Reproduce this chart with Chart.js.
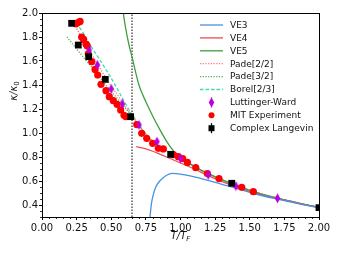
<!DOCTYPE html>
<html>
<head>
<meta charset="utf-8">
<script src="https://cdn.jsdelivr.net/npm/chart.js@4.4.1/dist/chart.umd.min.js"></script>
<style>
html, body { margin: 0; padding: 0; background: #fff; }
#wrap { width: 339px; height: 255px; }
</style>
</head>
<body>
<div id="wrap"><canvas id="kappaChart" width="339" height="255"></canvas></div>
<script>
// axis ticks
const xTicks = [0, 0.25, 0.5, 0.75, 1.0, 1.25, 1.5, 1.75, 2.0];
const yTicks = [0.4, 0.6, 0.8, 1.0, 1.2, 1.4, 1.6, 1.8, 2.0];
const tcLine = 0.65;

// virial expansions
const ve3X = [0.78, 0.785, 0.79, 0.80, 0.82, 0.85, 0.90, 0.94, 1.00, 1.10, 1.20, 1.30, 1.40, 1.50, 1.60, 1.70, 1.80, 1.90, 2.00];
const ve3Y = [0.30, 0.36, 0.41, 0.47, 0.545, 0.60, 0.648, 0.664, 0.658, 0.635, 0.605, 0.572, 0.54, 0.505, 0.475, 0.45, 0.425, 0.40, 0.378];
const ve4X = [0.68, 0.75, 0.80, 0.85, 0.90, 0.95, 1.00, 1.10, 1.20, 1.30, 1.40, 1.50, 1.60, 1.70, 1.80, 1.90, 2.00];
const ve4Y = [0.886, 0.868, 0.848, 0.824, 0.80, 0.775, 0.75, 0.70, 0.645, 0.595, 0.553, 0.513, 0.48, 0.453, 0.428, 0.403, 0.379];
const ve5X = [0.587, 0.60, 0.625, 0.655, 0.70, 0.75, 0.80, 0.85, 0.90, 0.95, 1.00, 1.10, 1.20, 1.30, 1.40, 1.50, 1.60, 1.70, 1.80, 1.90, 2.00];
const ve5Y = [2.0, 1.90, 1.75, 1.61, 1.40, 1.26, 1.14, 1.03, 0.93, 0.85, 0.80, 0.72, 0.662, 0.61, 0.565, 0.522, 0.487, 0.457, 0.43, 0.404, 0.38];

// resummations
const pade22X = [0.25, 0.30, 0.35, 0.40, 0.45, 0.50, 0.55, 0.60, 0.65, 0.70, 0.75, 0.80, 0.85, 0.90, 0.95, 1.00, 1.10, 1.20, 1.30, 1.40, 1.50, 1.60, 1.70, 1.80, 1.90, 2.00];
const pade22Y = [1.87, 1.77, 1.67, 1.575, 1.48, 1.39, 1.31, 1.225, 1.145, 1.065, 0.99, 0.93, 0.885, 0.852, 0.823, 0.795, 0.72, 0.662, 0.61, 0.565, 0.522, 0.487, 0.457, 0.43, 0.404, 0.38];
const pade32X = [0.18, 0.25, 0.30, 0.35, 0.40, 0.45, 0.50, 0.55, 0.60, 0.65, 0.70, 0.75, 0.80, 0.85, 0.90, 0.95, 1.00, 1.10, 1.20, 1.30, 1.40, 1.50, 1.60, 1.70, 1.80, 1.90, 2.00];
const pade32Y = [1.80, 1.70, 1.63, 1.56, 1.49, 1.415, 1.345, 1.28, 1.21, 1.14, 1.06, 0.99, 0.93, 0.885, 0.852, 0.823, 0.795, 0.72, 0.662, 0.61, 0.565, 0.522, 0.487, 0.457, 0.43, 0.404, 0.38];
const borelX = [0.27, 0.30, 0.35, 0.40, 0.45, 0.50, 0.55, 0.60, 0.65, 0.70, 0.75, 0.80, 0.85, 0.90, 0.95, 1.00, 1.10, 1.20, 1.30, 1.40, 1.50, 1.60, 1.70, 1.80, 1.90, 2.00];
const borelY = [1.88, 1.83, 1.73, 1.64, 1.55, 1.455, 1.355, 1.25, 1.155, 1.07, 0.99, 0.93, 0.885, 0.852, 0.823, 0.795, 0.72, 0.662, 0.61, 0.565, 0.522, 0.487, 0.457, 0.43, 0.404, 0.38];

// Luttinger-Ward
const lwX = [0.34, 0.40, 0.50, 0.58, 0.70, 0.83, 1.00, 1.20, 1.40, 1.70];
const lwY = [1.69, 1.567, 1.367, 1.242, 1.067, 0.928, 0.789, 0.652, 0.558, 0.456];
const lwErr = [0.025, 0.025, 0.025, 0.025, 0.025, 0.025, 0.02, 0.02, 0.02, 0.02];

// MIT experiment
const mitX = [0.245, 0.26, 0.275, 0.286, 0.30, 0.318, 0.327, 0.334, 0.359, 0.383, 0.402, 0.426, 0.462, 0.486, 0.515, 0.542, 0.568, 0.592, 0.606, 0.684, 0.72, 0.756, 0.799, 0.84, 0.876, 0.948, 0.984, 1.016, 1.05, 1.11, 1.194, 1.278, 1.442, 1.526];
const mitY = [1.91, 1.92, 1.93, 1.80, 1.78, 1.74, 1.725, 1.66, 1.594, 1.53, 1.483, 1.406, 1.353, 1.303, 1.269, 1.239, 1.192, 1.147, 1.136, 1.07, 0.997, 0.956, 0.914, 0.872, 0.867, 0.82, 0.803, 0.787, 0.755, 0.711, 0.662, 0.62, 0.547, 0.511];

// Complex Langevin
const clX = [0.214, 0.262, 0.337, 0.457, 0.64, 0.929, 1.37, 2.0];
const clY = [1.914, 1.733, 1.636, 1.447, 1.136, 0.822, 0.581, 0.378];
const clErr = [0.02, 0.02, 0.02, 0.02, 0.025, 0.015, 0.015, 0.015];

const toPts = (xs, ys) => xs.map((x, i) => ({ x: x, y: ys[i] }));

function thinDiamond(color) {
    const c = document.createElement('canvas');
    c.width = 7;
    c.height = 11;
    const g = c.getContext('2d');
    g.fillStyle = color;
    g.beginPath();
    g.moveTo(3.5, 0.5);
    g.lineTo(6.3, 5.5);
    g.lineTo(3.5, 10.5);
    g.lineTo(0.7, 5.5);
    g.closePath();
    g.fill();
    return c;
}

const lwColor = '#bb00dd';
const diamond = thinDiamond(lwColor);

function lineSet(label, xs, ys, color, dash) {
    return {
        type: 'line',
        label: label,
        data: toPts(xs, ys),
        borderColor: color,
        borderWidth: 1.3,
        borderDash: dash,
        pointRadius: 0,
        cubicInterpolationMode: 'monotone',
        fill: false,
        order: 5,
        inLegend: true
    };
}

const extras = {
    id: 'extras',
    afterDatasetsDraw(chart) {
        const ctx = chart.ctx;
        const xs = chart.scales.x, ys = chart.scales.y;
        ctx.save();
        chart.data.datasets.forEach(ds => {
            if (!ds.errs) return;
            ctx.strokeStyle = ds.backgroundColor;
            ctx.lineWidth = 1.2;
            ds.data.forEach((p, i) => {
                const px = xs.getPixelForValue(p.x);
                ctx.beginPath();
                ctx.moveTo(px, ys.getPixelForValue(p.y - ds.errs[i]));
                ctx.lineTo(px, ys.getPixelForValue(p.y + ds.errs[i]));
                ctx.stroke();
            });
        });
        ctx.restore();
    },
    afterDraw(chart) {
        const ctx = chart.ctx;
        const a = chart.chartArea;
        const xs = chart.scales.x, ys = chart.scales.y;
        ctx.save();
        // frame
        ctx.strokeStyle = '#000';
        ctx.lineWidth = 1;
        ctx.strokeRect(Math.round(a.left) + 0.5, Math.round(a.top) + 0.5, Math.round(a.right - a.left), Math.round(a.bottom - a.top));
        // minor ticks
        ctx.lineWidth = 0.8;
        ctx.beginPath();
        for (let k = 0; k <= 40; k++) {
            if (k % 5 === 0) continue;
            const px = Math.round(xs.getPixelForValue(k * 0.05)) + 0.5;
            ctx.moveTo(px, a.bottom);
            ctx.lineTo(px, a.bottom + 2);
        }
        for (let k = 6; k <= 40; k++) {
            if (k % 4 === 0) continue;
            const py = Math.round(ys.getPixelForValue(k * 0.05)) + 0.5;
            ctx.moveTo(a.left, py);
            ctx.lineTo(a.left - 2, py);
        }
        ctx.stroke();

        // axis titles
        ctx.fillStyle = '#111';
        ctx.textBaseline = 'alphabetic';
        ctx.font = 'italic 10px "DejaVu Sans"';
        const xt = 'T/T';
        const w1 = ctx.measureText(xt).width;
        ctx.font = 'italic 7px "DejaVu Sans"';
        const w2 = ctx.measureText('F').width;
        let tx = (a.left + a.right) / 2 - (w1 + w2) / 2;
        ctx.font = 'italic 10px "DejaVu Sans"';
        ctx.fillText(xt, tx, 239);
        ctx.font = 'italic 7px "DejaVu Sans"';
        ctx.fillText('F', tx + w1, 241);

        ctx.save();
        ctx.translate(17, 91);
        ctx.rotate(-Math.PI / 2);
        ctx.font = 'italic 10px "DejaVu Sans"';
        const yt = 'κ/κ';
        const v1 = ctx.measureText(yt).width;
        ctx.font = '7px "DejaVu Sans"';
        const v2 = ctx.measureText('0').width;
        const ty = -(v1 + v2) / 2;
        ctx.font = 'italic 10px "DejaVu Sans"';
        ctx.fillText(yt, ty, 0);
        ctx.font = '7px "DejaVu Sans"';
        ctx.fillText('0', ty + v1, 2);
        ctx.restore();

        // legend
        const items = chart.data.datasets.filter(d => d.inLegend);
        const hx0 = 200, hx1 = 223, tx0 = 230;
        ctx.font = '9px "DejaVu Sans"';
        ctx.textBaseline = 'middle';
        items.forEach((d, i) => {
            const yy = 25 + i * 12.9;
            if (d.type === 'line') {
                ctx.strokeStyle = d.borderColor;
                ctx.lineWidth = 1.3;
                ctx.setLineDash(d.borderDash || []);
                ctx.beginPath();
                ctx.moveTo(hx0, yy);
                ctx.lineTo(hx1, yy);
                ctx.stroke();
                ctx.setLineDash([]);
            } else {
                const cx = (hx0 + hx1) / 2;
                if (d.errs) {
                    ctx.strokeStyle = d.backgroundColor;
                    ctx.lineWidth = 1.2;
                    ctx.beginPath();
                    ctx.moveTo(cx, yy - 5);
                    ctx.lineTo(cx, yy + 5);
                    ctx.stroke();
                }
                if (d.pointStyle === 'circle') {
                    ctx.fillStyle = d.backgroundColor;
                    ctx.beginPath();
                    ctx.arc(cx, yy, 3, 0, Math.PI * 2);
                    ctx.fill();
                } else if (d.pointStyle === 'rect') {
                    ctx.fillStyle = d.backgroundColor;
                    ctx.fillRect(cx - 3, yy - 3, 6, 6);
                } else {
                    ctx.drawImage(d.pointStyle, cx - 3.5, yy - 5.5);
                }
            }
            ctx.fillStyle = '#111';
            ctx.fillText(d.label, tx0, yy + 0.5);
        });
        ctx.restore();
    }
};

new Chart(document.getElementById('kappaChart'), {
    data: {
        datasets: [
            lineSet('VE3', ve3X, ve3Y, '#4a90e2', []),
            lineSet('VE4', ve4X, ve4Y, '#f04a55', []),
            lineSet('VE5', ve5X, ve5Y, '#3f9f3f', []),
            lineSet('Pade[2/2]', pade22X, pade22Y, '#ff7080', [1.2, 1.5]),
            lineSet('Pade[3/2]', pade32X, pade32Y, '#5aaa50', [1.2, 1.5]),
            lineSet('Borel[2/3]', borelX, borelY, '#3ddcaa', [3.5, 2]),
            {
                type: 'scatter',
                label: 'Luttinger-Ward',
                data: toPts(lwX, lwY),
                errs: lwErr,
                backgroundColor: lwColor,
                pointStyle: diamond,
                order: 2,
                inLegend: true
            },
            {
                type: 'scatter',
                label: 'MIT Experiment',
                data: toPts(mitX, mitY),
                backgroundColor: '#ff0000',
                borderWidth: 0,
                pointStyle: 'circle',
                pointRadius: 3.6,
                order: 3,
                inLegend: true
            },
            {
                type: 'scatter',
                label: 'Complex Langevin',
                data: toPts(clX, clY),
                errs: clErr,
                backgroundColor: '#000000',
                borderWidth: 0,
                pointStyle: 'rect',
                pointRadius: 4.8,
                order: 1,
                inLegend: true
            },
            {
                type: 'line',
                label: 'Tc',
                data: [{ x: tcLine, y: 0.3 }, { x: tcLine, y: 2.0 }],
                borderColor: '#000',
                borderWidth: 1,
                borderDash: [1.5, 1.5],
                pointRadius: 0,
                order: 6
            }
        ]
    },
    options: {
        responsive: false,
        animation: false,
        devicePixelRatio: 1,
        layout: { padding: { top: 13, right: 20, bottom: 0, left: 0 } },
        plugins: { legend: { display: false }, tooltip: { enabled: false } },
        scales: {
            x: {
                type: 'linear',
                min: 0,
                max: 2,
                afterBuildTicks: s => { s.ticks = xTicks.map(v => ({ value: v })); },
                afterFit: s => { s.height = 38; },
                ticks: {
                    callback: v => Number(v).toFixed(2),
                    font: { family: 'DejaVu Sans', size: 10 },
                    color: '#111',
                    padding: 2,
                    maxRotation: 0,
                    autoSkip: false
                },
                grid: { drawOnChartArea: false, drawTicks: true, tickLength: 3, tickColor: '#000' },
                border: { color: '#000' }
            },
            y: {
                type: 'linear',
                min: 0.3,
                max: 2.0,
                afterBuildTicks: s => { s.ticks = yTicks.map(v => ({ value: v })); },
                afterFit: s => { s.width = 42; },
                ticks: {
                    callback: v => Number(v).toFixed(1),
                    font: { family: 'DejaVu Sans', size: 10 },
                    color: '#111',
                    padding: 1,
                    autoSkip: false
                },
                grid: { drawOnChartArea: false, drawTicks: true, tickLength: 3, tickColor: '#000' },
                border: { color: '#000' }
            }
        }
    },
    plugins: [extras]
});
</script>
</body>
</html>
